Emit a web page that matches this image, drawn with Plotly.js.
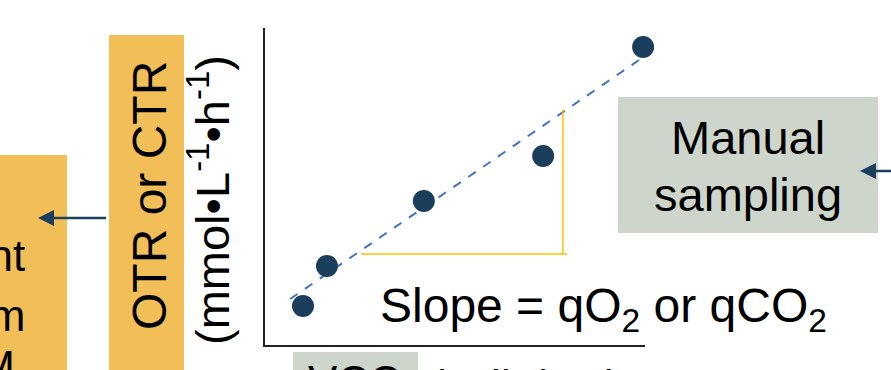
<!DOCTYPE html>
<html>
<head>
<meta charset="utf-8">
<script src="https://cdn.plot.ly/plotly-3.0.1.min.js"></script>
<style>html,body{margin:0;padding:0;background:#fff;overflow:hidden;}#chart{width:891px;height:370px;}</style>
</head>
<body>
<div id="chart"></div>
<script>
// ---- data ----
const pointX = [1.0, 1.63, 4.18, 7.32, 9.95];
const pointY = [1.23, 2.49, 4.54, 5.96, 9.40];
const fitX = [0.66, 10.0];
const fitY = [1.45, 9.12];
const triX = [2.53, 7.95, null, 7.84, 7.84];
const triY = [2.87, 2.87, null, 2.87, 7.44];
const yLabel1 = "OTR or CTR";
const yLabel2 = "(mmol\u2022L<sup>-1</sup>\u2022h<sup>-1</sup>)";
const slopeText = "Slope = qO<sub>2</sub> or qCO<sub>2</sub>";
const boxText = ["Manual", "sampling"];
const leftText = ["ent", "rm", "SM"];
const xLabelBox = "VCC";
const xLabelRest = "(cells/mL)";

// ---- layout helpers (pixel -> paper) ----
const L = 265, R = 645, T = 28, B = 345;
const W = R - L, H = B - T;
const px = v => (v - L) / W;
const py = v => (B - v) / H;

const navy = '#1B3E5C';
const orange = '#F2BE58';
const grey = '#CED5CB';
const font = "Liberation Sans, Arial, sans-serif";

function rect(x0, y0, x1, y1, color) {
  return {type: 'rect', xref: 'paper', yref: 'paper', x0: px(x0), x1: px(x1), y0: py(y1), y1: py(y0),
    fillcolor: color, line: {width: 0}, layer: 'below'};
}
function line(x0, y0, x1, y1, color, w) {
  return {type: 'line', xref: 'paper', yref: 'paper', x0: px(x0), x1: px(x1), y0: py(y0), y1: py(y1),
    line: {color: color, width: w}};
}
function tri(pts, color) {
  let d = pts.map((p, i) => (i ? 'L' : 'M') + px(p[0]) + ',' + py(p[1])).join(' ') + ' Z';
  return {type: 'path', xref: 'paper', yref: 'paper', path: d, fillcolor: color, line: {width: 0}};
}
function ann(text, x, y, size, opts) {
  return Object.assign({xref: 'paper', yref: 'paper', x: px(x), y: py(y), text: text, showarrow: false,
    xanchor: 'center', yanchor: 'middle',
    font: {family: font, size: size, color: '#000'}}, opts || {});
}

const shapes = [
  rect(-5, 155, 67, 380, orange),
  rect(109, 35, 184, 380, orange),
  rect(618, 97, 878, 233, grey),
  rect(293, 352, 418, 380, grey),
  // left arrow
  line(106, 218, 50, 218, navy, 2.5),
  tri([[38, 218], [54, 210], [54, 226]], navy),
  // right arrow
  line(895, 171, 872, 171, navy, 2.5),
  tri([[860, 171], [876, 163], [876, 179]], navy)
];

const annotations = [
  ann(yLabel1, 149, 196, 48, {textangle: -90}),
  ann(yLabel2, 209, 200, 47, {textangle: -90}),
  ann(slopeText, 378, 309, 48, {xanchor: 'left'}),
  ann(boxText[0], 748, 137, 47),
  ann(boxText[1], 748, 194, 47),
  ann(leftText[0], 27, 255, 44, {xanchor: 'right'}),
  ann(leftText[1], 27, 315, 44, {xanchor: 'right'}),
  ann(leftText[2], 17, 366, 44, {xanchor: 'right'}),
  ann(xLabelBox, 354, 381, 44),
  ann(xLabelRest, 428, 385, 44, {xanchor: 'left'})
];

const traces = [
  {x: fitX, y: fitY, mode: 'lines', line: {color: '#4472C4', width: 2, dash: 'dash'}, hoverinfo: 'skip', cliponaxis: false},
  {x: triX, y: triY, mode: 'lines', line: {color: '#FFC000', width: 1.5}, hoverinfo: 'skip', cliponaxis: false},
  {x: pointX, y: pointY, mode: 'markers', marker: {size: 22, color: navy}, cliponaxis: false}
];

const layout = {
  width: 891, height: 370,
  margin: {l: L, r: 891 - R, t: T, b: 370 - B, pad: 0},
  paper_bgcolor: '#fff', plot_bgcolor: 'rgba(0,0,0,0)',
  showlegend: false,
  xaxis: {range: [0, 10], showline: true, linecolor: '#222', linewidth: 2, showgrid: false, zeroline: false,
    showticklabels: false, ticks: '', fixedrange: true},
  yaxis: {range: [0, 10], showline: true, linecolor: '#222', linewidth: 2, showgrid: false, zeroline: false,
    showticklabels: false, ticks: '', fixedrange: true},
  shapes: shapes,
  annotations: annotations
};

Plotly.newPlot('chart', traces, layout, {staticPlot: true, displayModeBar: false});
</script>
</body>
</html>
